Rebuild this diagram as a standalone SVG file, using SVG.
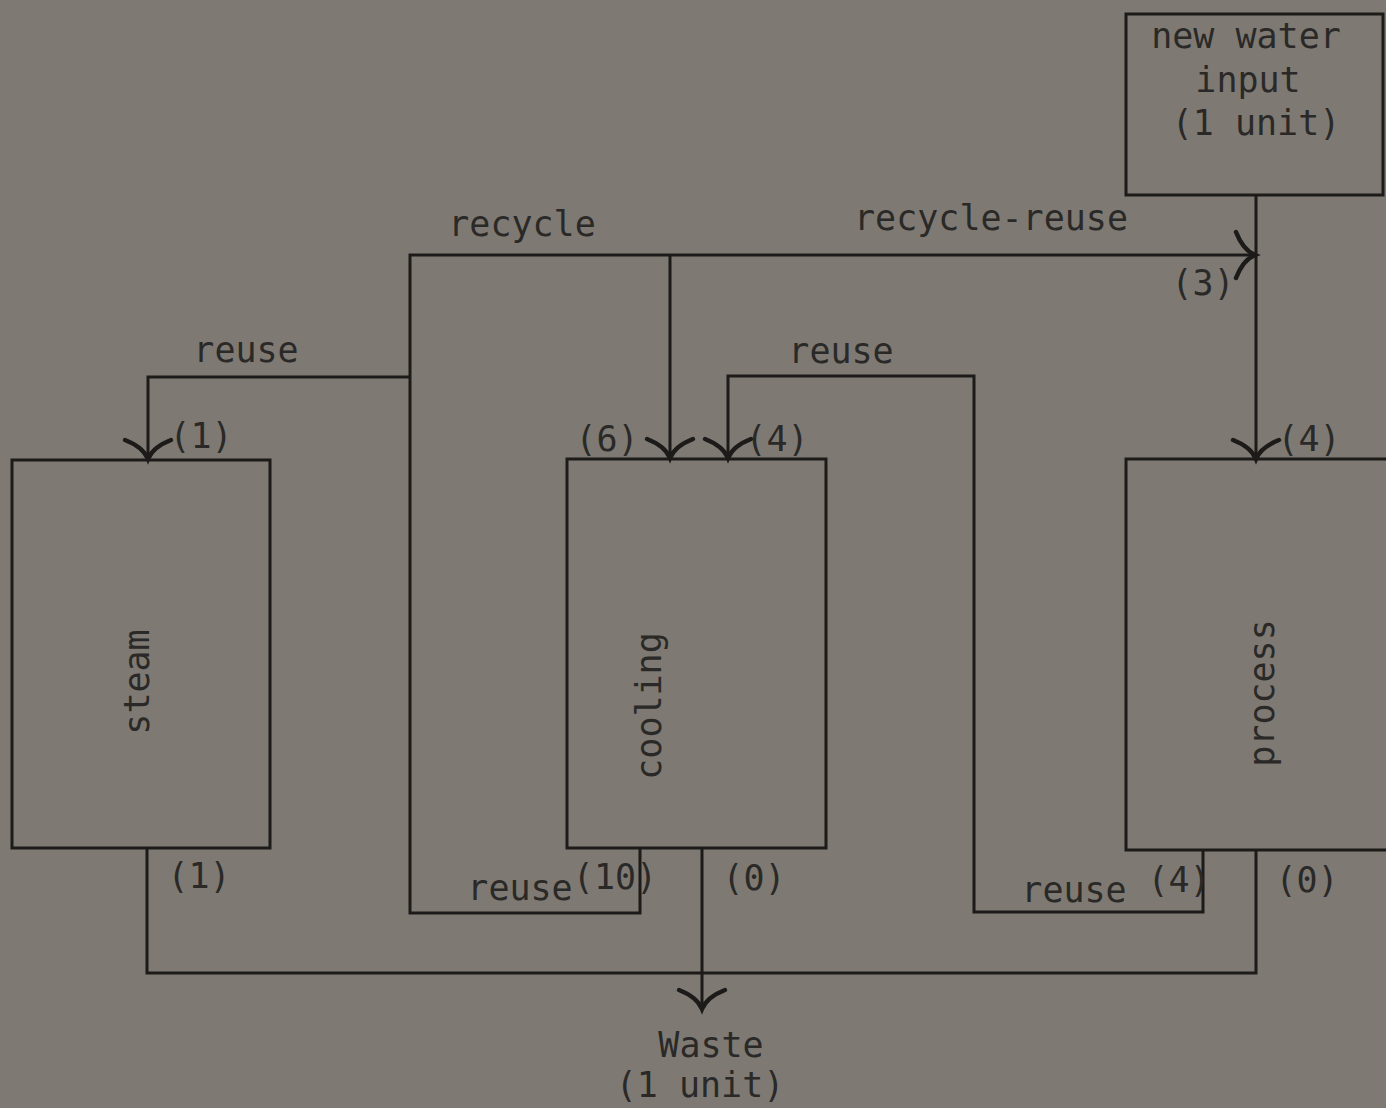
<svg xmlns="http://www.w3.org/2000/svg" width="1386" height="1108" viewBox="0 0 1386 1108">
<style>
.bg{fill:#7e7a73}
.box{fill:none;stroke:#1c1b19;stroke-width:3}
.line{fill:none;stroke:#1c1b19;stroke-width:3;stroke-linejoin:miter}
.lbl{font-family:"DejaVu Sans Mono","Liberation Mono",monospace;font-size:35px;fill:#2a2927;text-anchor:middle}
</style>
<defs>
<marker id="arr" markerUnits="userSpaceOnUse" viewBox="-30 -30 40 60" markerWidth="40" markerHeight="60" refX="0" refY="0" orient="auto" overflow="visible">
<path d="M -19,-23 Q -12,-5 0,0 Q -12,5 -19,23" fill="none" stroke="#1c1b19" stroke-width="4.5" stroke-linecap="round"/>
</marker>
</defs>
<rect class="bg" x="0" y="0" width="1386" height="1108"/>

<g id="connectors">
<path class="line" d="M 640,848 L 640,913 L 410,913 L 410,255 L 1255,255" marker-end="url(#arr)"/>
<path class="line" d="M 670,255 L 670,458" marker-end="url(#arr)"/>
<path class="line" d="M 410,377 L 148,377 L 148,459" marker-end="url(#arr)"/>
<path class="line" d="M 1256,195 L 1256,459" marker-end="url(#arr)"/>
<path class="line" d="M 1203,850 L 1203,912 L 974,912 L 974,376 L 728,376 L 728,458" marker-end="url(#arr)"/>
<path class="line" d="M 147,848 L 147,973 L 1256,973 L 1256,850"/>
<path class="line" d="M 702,848 L 702,1009" marker-end="url(#arr)"/>
</g>

<g id="new-water">
<rect class="box" x="1126" y="14" width="257" height="181"/>
<text class="lbl" x="1246" y="48">new water</text>
<text class="lbl" x="1248" y="92">input</text>
<text class="lbl" x="1256" y="135">(1 unit)</text>
</g>

<g id="steam">
<rect class="box" x="12" y="460" width="258" height="388"/>
<text class="lbl" transform="translate(149,682) rotate(-90)">steam</text>
</g>

<g id="cooling">
<rect class="box" x="567" y="459" width="259" height="389"/>
<text class="lbl" transform="translate(661,706) rotate(-90)">cooling</text>
</g>

<g id="process">
<rect class="box" x="1126" y="459" width="265" height="391"/>
<text class="lbl" transform="translate(1274,693) rotate(-90)">process</text>
</g>

<g id="waste">
<text class="lbl" x="711" y="1057">Waste</text>
<text class="lbl" x="700" y="1097">(1 unit)</text>
</g>

<g id="labels">
<text class="lbl" x="522" y="236">recycle</text>
<text class="lbl" x="991" y="230">recycle-reuse</text>
<text class="lbl" x="1203" y="295">(3)</text>
<text class="lbl" x="246" y="362">reuse</text>
<text class="lbl" x="841" y="363">reuse</text>
<text class="lbl" x="201" y="448">(1)</text>
<text class="lbl" x="607" y="451">(6)</text>
<text class="lbl" x="777" y="451">(4)</text>
<text class="lbl" x="1309" y="451">(4)</text>
<text class="lbl" x="199" y="888">(1)</text>
<text class="lbl" x="520" y="900">reuse</text>
<text class="lbl" x="615" y="889">(10)</text>
<text class="lbl" x="754" y="890">(0)</text>
<text class="lbl" x="1074" y="902">reuse</text>
<text class="lbl" x="1179" y="892">(4)</text>
<text class="lbl" x="1307" y="892">(0)</text>
</g>
</svg>
